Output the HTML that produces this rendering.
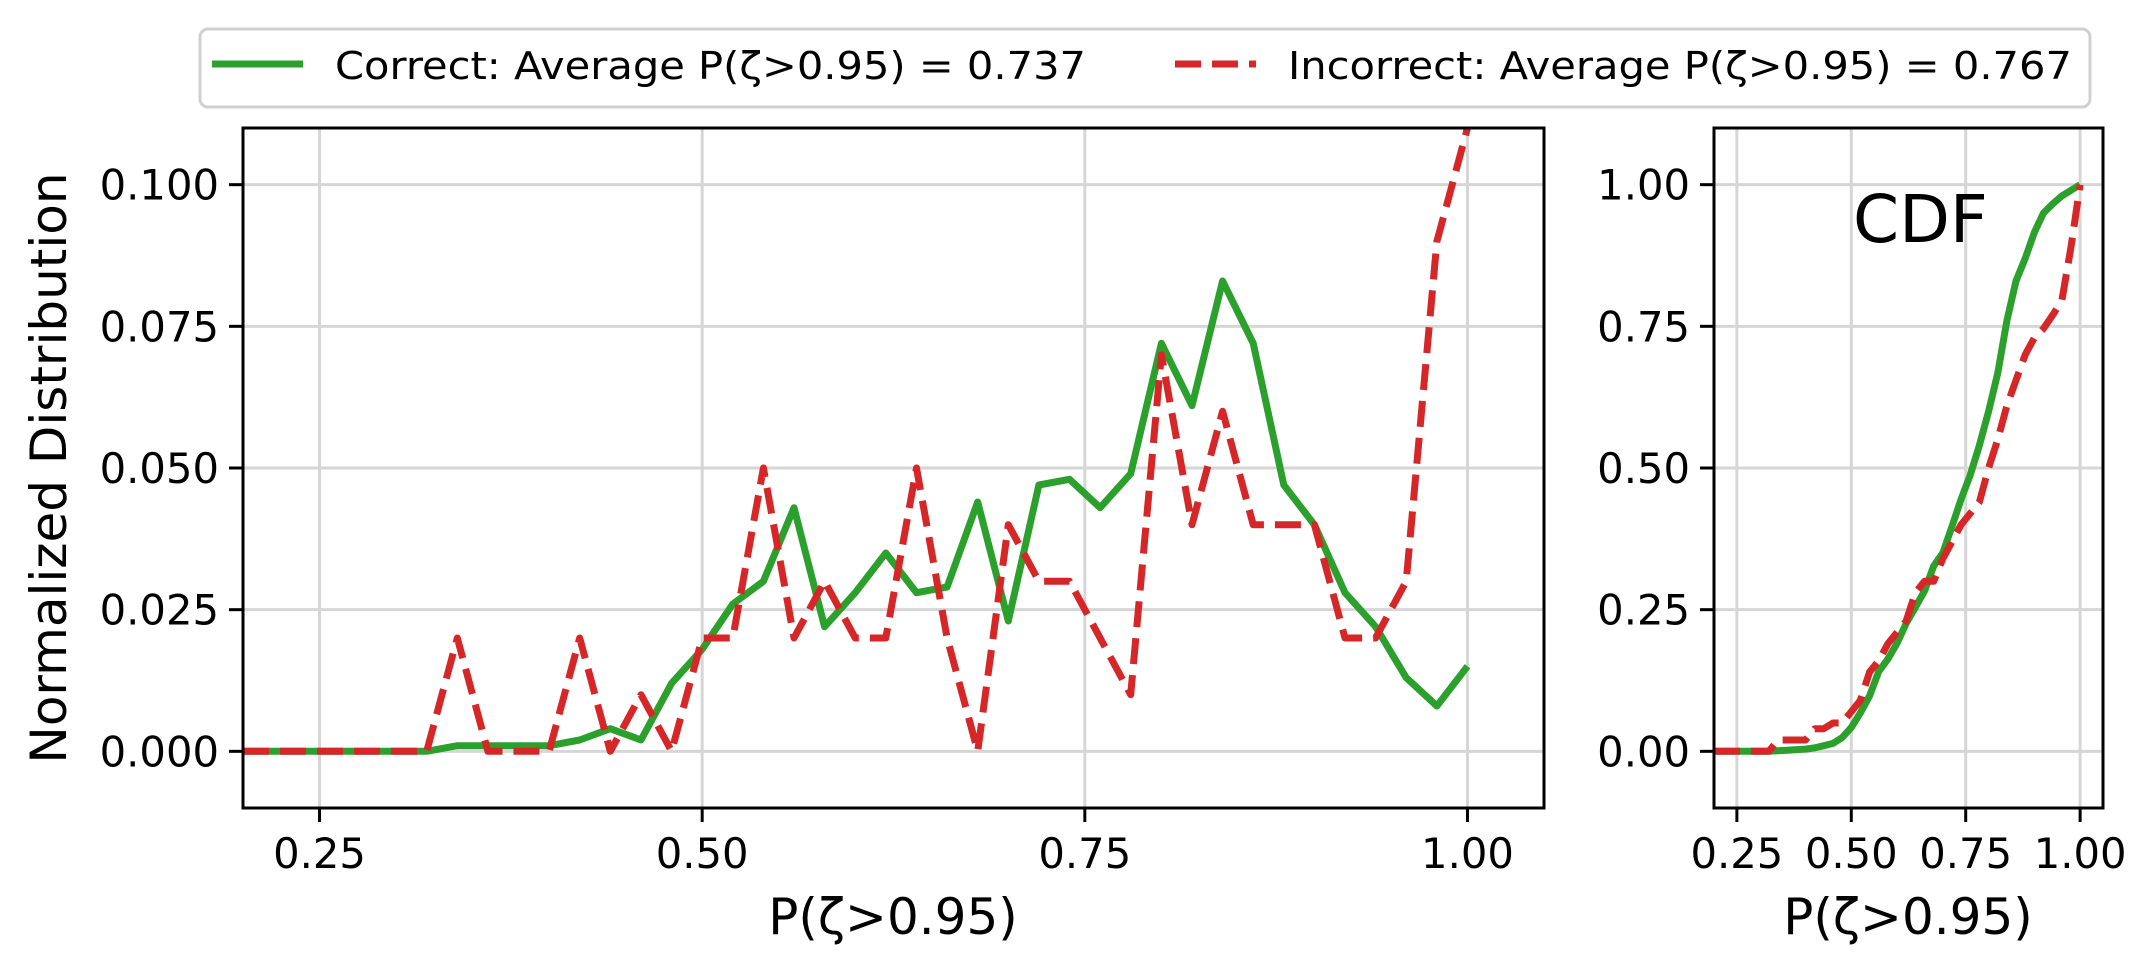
<!DOCTYPE html>
<html><head><meta charset="utf-8"><style>
html,body{margin:0;padding:0;background:#fff;}
svg{display:block;font-family:"DejaVu Sans","Liberation Sans",sans-serif;}
</style></head><body>
<svg id="chart" width="2156" height="975" viewBox="0 0 2156 975" xmlns="http://www.w3.org/2000/svg"></svg>
<script>
const xs = [0.20,0.22,0.24,0.26,0.28,0.30,0.32,0.34,0.36,0.38,0.40,0.42,0.44,0.46,0.48,0.50,0.52,0.54,0.56,0.58,0.60,0.62,0.64,0.66,0.68,0.70,0.72,0.74,0.76,0.78,0.80,0.82,0.84,0.86,0.88,0.90,0.92,0.94,0.96,0.98,1.00];
const correctDist = [0,0,0,0,0,0,0,0.001,0.001,0.001,0.001,0.002,0.004,0.002,0.012,0.018,0.026,0.030,0.043,0.022,0.028,0.035,0.028,0.029,0.044,0.023,0.047,0.048,0.043,0.049,0.072,0.061,0.083,0.072,0.047,0.040,0.028,0.022,0.013,0.008,0.015];
const incorrectDist = [0,0,0,0,0,0,0,0.020,0,0,0,0.020,0,0.010,0,0.020,0.020,0.050,0.020,0.030,0.020,0.020,0.050,0.020,0,0.040,0.030,0.030,0.020,0.010,0.070,0.040,0.060,0.040,0.040,0.040,0.020,0.020,0.030,0.090,0.110];
const correctCdf = [0,0,0,0,0,0,0,0.001,0.002,0.003,0.004,0.006,0.010,0.014,0.024,0.042,0.068,0.098,0.141,0.163,0.191,0.226,0.254,0.283,0.327,0.350,0.397,0.445,0.488,0.540,0.600,0.667,0.760,0.830,0.870,0.916,0.950,0.966,0.980,0.990,1.000];
const incorrectCdf = [0,0,0,0,0,0,0,0.020,0.020,0.020,0.020,0.040,0.040,0.050,0.050,0.070,0.090,0.140,0.160,0.190,0.210,0.230,0.280,0.300,0.300,0.340,0.370,0.400,0.420,0.440,0.500,0.550,0.610,0.655,0.700,0.730,0.746,0.770,0.795,0.890,1.000];
const mainYTicks = [0.000,0.025,0.050,0.075,0.100];
const mainYTickLabels = ["0.000","0.025","0.050","0.075","0.100"];
const cdfYTicks = [0,0.25,0.5,0.75,1.0];
const cdfYTickLabels = ["0.00","0.25","0.50","0.75","1.00"];
const xTicks = [0.25,0.5,0.75,1.0];
const xTickLabels = ["0.25","0.50","0.75","1.00"];

const NS="http://www.w3.org/2000/svg";
const svg=document.getElementById('chart');
function mk(tag,attrs,parent){const e=document.createElementNS(NS,tag);for(const k in attrs)e.setAttribute(k,attrs[k]);(parent||svg).appendChild(e);return e;}

function drawPanel(name,L,R,T,B,xmin,xmax,ymin,ymax,yt,ytl,fs,series){
  const g=mk('g',{});
  
  
  const sx=v=>L+(v-xmin)/(xmax-xmin)*(R-L);
  const sy=v=>B-(v-ymin)/(ymax-ymin)*(B-T);
  xTicks.forEach((t,i)=>{
    const gl=mk('line',{x1:sx(t),x2:sx(t),y1:T,y2:B,stroke:'#d6d6d6','stroke-width':3},g);
    
    
    mk('line',{x1:sx(t),x2:sx(t),y1:B,y2:B+14,stroke:'#000','stroke-width':3},g);
    const tx=mk('text',{x:sx(t),y:B+60,'font-size':fs,'text-anchor':'middle',fill:'#000'},g);
    tx.textContent=xTickLabels[i];
    
    
  });
  yt.forEach((t,i)=>{
    const gl=mk('line',{x1:L,x2:R,y1:sy(t),y2:sy(t),stroke:'#d6d6d6','stroke-width':3},g);
    
    
    mk('line',{x1:L-14,x2:L,y1:sy(t),y2:sy(t),stroke:'#000','stroke-width':3},g);
    const tx=mk('text',{x:L-24,y:sy(t)+15,'font-size':41.7,'text-anchor':'end',fill:'#000'},g);
    tx.textContent=ytl[i];
    
    
  });
  const cp='clip-'+name;
  const cl=mk('clipPath',{id:cp},g);mk('rect',{x:L,y:T,width:R-L,height:B-T},cl);
  series.forEach(s=>{
    const d=xs.map((x,i)=>(i?'L':'M')+sx(x).toFixed(1)+' '+sy(s.v[i]).toFixed(1)).join(' ');
    const p=mk('path',{d:d,fill:'none',stroke:s.c,'stroke-width':7,'stroke-linejoin':'round','clip-path':'url(#'+cp+')'},g);
    if(s.dash)p.setAttribute('stroke-dasharray','26 11');
    
    
  });
  const fr=mk('rect',{x:L,y:T,width:R-L,height:B-T,fill:'none',stroke:'#000','stroke-width':3},g);
  
  
}
drawPanel('distribution-panel',243,1544,128,808,0.2,1.05,-0.01,0.11,mainYTicks,mainYTickLabels,41.7,
  [{v:correctDist,c:'#2ca02c',n:'correct-distribution-line'},{v:incorrectDist,c:'#d62728',dash:1,n:'incorrect-distribution-line'}]);
drawPanel('cdf-panel',1714,2103,128,808,0.2,1.05,-0.1,1.1,cdfYTicks,cdfYTickLabels,41.7,
  [{v:correctCdf,c:'#2ca02c',n:'correct-cdf-line'},{v:incorrectCdf,c:'#d62728',dash:1,n:'incorrect-cdf-line'}]);
</script>
<svg style="position:absolute;left:0;top:0" width="2156" height="975">
  <text transform="translate(66,468) rotate(-90)" font-family="DejaVu Sans, Liberation Sans, sans-serif" font-size="50" text-anchor="middle">Normalized Distribution</text>
  <text x="893" y="934" font-family="DejaVu Sans, Liberation Sans, sans-serif" font-size="50" text-anchor="middle">P(ζ&gt;0.95)</text>
  <text x="1908" y="934" font-family="DejaVu Sans, Liberation Sans, sans-serif" font-size="50" text-anchor="middle">P(ζ&gt;0.95)</text>
  <text x="1853" y="242" font-family="DejaVu Sans, Liberation Sans, sans-serif" font-size="66">CDF</text>
  <g>
    <rect x="200" y="29" width="1890" height="78" rx="8" fill="#fff" stroke="#d0d0d0" stroke-width="3"/>
    <line x1="212" y1="64" x2="303" y2="64" stroke="#2ca02c" stroke-width="7"/>
    <text x="335" y="79" font-family="DejaVu Sans, Liberation Sans, sans-serif" font-size="38" textLength="751" lengthAdjust="spacingAndGlyphs">Correct: Average P(ζ&gt;0.95) = 0.737</text>
    <line x1="1175" y1="64" x2="1256" y2="64" stroke="#d62728" stroke-width="7" stroke-dasharray="26 11"/>
    <text x="1288" y="79" font-family="DejaVu Sans, Liberation Sans, sans-serif" font-size="38" textLength="784" lengthAdjust="spacingAndGlyphs">Incorrect: Average P(ζ&gt;0.95) = 0.767</text>
  </g>
</svg>
</body></html>
